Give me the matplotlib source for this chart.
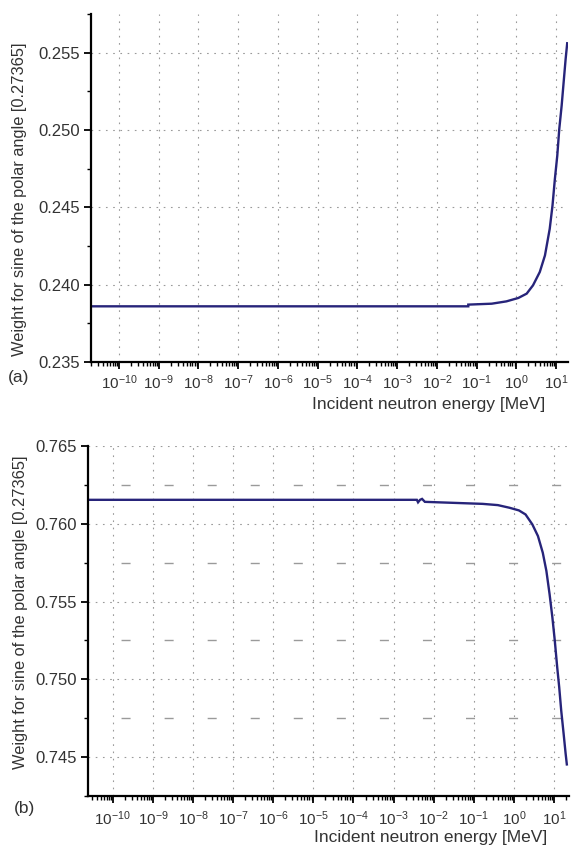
import numpy as np
import matplotlib
matplotlib.use("Agg")
import matplotlib.pyplot as plt
from matplotlib.ticker import LogLocator, NullFormatter, MultipleLocator, FormatStrFormatter, LogFormatterMathtext

plt.rcParams['font.family'] = ['Liberation Sans', 'DejaVu Sans']
plt.rcParams['mathtext.fontset'] = 'custom'
plt.rcParams['mathtext.rm'] = 'Liberation Sans'
plt.rcParams['mathtext.it'] = 'Liberation Sans:italic'
plt.rcParams['mathtext.default'] = 'regular'

# ---------------- data ----------------
# panel (a): log10 of incident energy [MeV] and weight
log_e_a = [-10.70, -1.21, -1.21, -0.62, -0.25, 0.05, 0.26, 0.42, 0.59, 0.72,
           0.84, 0.91, 0.97, 1.03, 1.08, 1.14, 1.19, 1.24, 1.28]
weight_a = [0.23860, 0.23860, 0.23871, 0.23877, 0.23892, 0.23914, 0.23942, 0.23996,
            0.24082, 0.24189, 0.24361, 0.24512, 0.24684, 0.24834, 0.25006, 0.25157,
            0.25308, 0.25458, 0.25561]

# panel (b)
log_e_b = [-10.62, -2.42, -2.39, -2.34, -2.29, -2.22, -0.78, -0.40, -0.11, 0.125,
           0.29, 0.46, 0.60, 0.72, 0.81, 0.89, 0.96, 1.02, 1.08, 1.13, 1.18,
           1.24, 1.29, 1.32]
weight_b = [0.76154, 0.76154, 0.76138, 0.76154, 0.76160, 0.76141, 0.76128, 0.76120,
            0.76103, 0.76086, 0.76060, 0.75996, 0.75921, 0.75814, 0.75697, 0.75547,
            0.75397, 0.75248, 0.75077, 0.74949, 0.74799, 0.74650, 0.74522, 0.74453]

energy_a = 10.0 ** np.array(log_e_a)
energy_b = 10.0 ** np.array(log_e_b)

xlabel = "Incident neutron energy [MeV]"
ylabel = "Weight for sine of the polar angle [0.27365]"
panel_tags = ["(a)", "(b)"]

# ---------------- styling ----------------
W, H = 581, 848
fig = plt.figure(figsize=(W / 100, H / 100), dpi=100)
line_color = '#27247a'
text_color = '#333333'
grid_color = '#9a9a9a'

ax1 = fig.add_axes([91 / W, 1 - 362 / H, 477 / W, 348 / H])
ax2 = fig.add_axes([88 / W, 1 - 796 / H, 481 / W, 350 / H])


def style(ax, ylim, xlim, pad_x):
    ax.set_xscale('log')
    ax.set_xlim(*xlim)
    ax.set_ylim(*ylim)
    for s in ['top', 'right']:
        ax.spines[s].set_visible(False)
    for s in ['left', 'bottom']:
        ax.spines[s].set_linewidth(1.6)
        ax.spines[s].set_color('black')
    ax.xaxis.set_major_locator(LogLocator(base=10, numticks=30))
    ax.xaxis.set_minor_locator(LogLocator(base=10, subs=np.arange(2, 10), numticks=30))
    ax.xaxis.set_major_formatter(LogFormatterMathtext())
    ax.xaxis.set_minor_formatter(NullFormatter())
    ax.yaxis.set_major_locator(MultipleLocator(0.005))
    ax.yaxis.set_minor_locator(MultipleLocator(0.0025))
    ax.yaxis.set_major_formatter(FormatStrFormatter('%.3f'))
    ax.tick_params(axis='both', which='major', direction='out', length=5, width=1.3,
                   color='black', labelcolor=text_color)
    ax.tick_params(axis='both', which='minor', direction='out', length=3, width=1.0,
                   color='black')
    ax.tick_params(axis='x', which='major', labelsize=11, pad=pad_x)
    ax.tick_params(axis='y', which='major', labelsize=12, pad=3)
    ax.grid(True, which='major', axis='both', color=grid_color,
            linestyle=(0, (1.5, 5)), linewidth=0.8)
    ax.set_axisbelow(True)


style(ax1, (0.235, 0.2575), (10 ** -10.705, 10 ** 1.30), 3)
style(ax2, (0.7425, 0.765), (10 ** -10.62, 10 ** 1.374), 5)

# minor horizontal dashes in panel (b)
ax2.grid(True, which='minor', axis='y', color=grid_color,
         linestyle=(7.2, (6.5, 24.5)), linewidth=1.0)
ax2.grid(False, which='minor', axis='x')

ax1.plot(energy_a, weight_a, color=line_color, linewidth=1.7, solid_joinstyle='miter')
ax2.plot(energy_b, weight_b, color=line_color, linewidth=1.7, solid_joinstyle='miter')

for ax, xl_x, xl_y, yl_x, yl_y in [(ax1, 0.7075, -0.100, -0.134, 0.468),
                                   (ax2, 0.712, -0.097, -0.125, 0.525)]:
    ax.set_xlabel(xlabel, fontsize=12.5, color=text_color)
    ax.xaxis.set_label_coords(xl_x, xl_y)
    ax.set_ylabel(ylabel, fontsize=11.8, color=text_color)
    ax.yaxis.set_label_coords(yl_x, yl_y)

fig.text(8 / W, 1 - 378 / H, panel_tags[0], fontsize=12.5, color=text_color, va='center', ha='left')
fig.text(14 / W, 1 - 808 / H, panel_tags[1], fontsize=12.5, color=text_color, va='center', ha='left')

fig.savefig('out.png', dpi=100)
